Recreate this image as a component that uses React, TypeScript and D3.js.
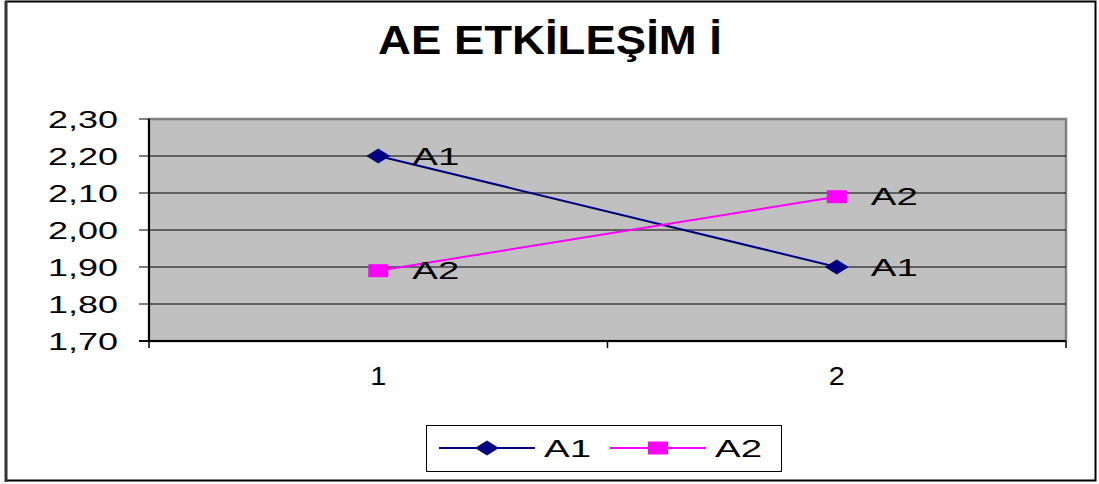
import React from "react";
import * as d3 from "d3";

const categories = ["1", "2"];
const seriesNames = ["A1", "A2"];
const a1Values = [2.2, 1.9];
const a2Values = [1.89, 2.09];
const yTicks = [1.7, 1.8, 1.9, 2.0, 2.1, 2.2, 2.3];
const title = "AE ETKİLEŞİM İ";

const W = 1099;
const H = 484;
const plot = { left: 149, top: 119, right: 1066, bottom: 341 };
const colors = ["#000080", "#FF00FF"];
const FONT = "Liberation Sans, Arial, sans-serif";

const trLocale = d3.formatLocale({ decimal: ",", thousands: ".", grouping: [3], currency: ["", " TL"] });
const fmt = trLocale.format(".2f");

export default function App() {
  const x = d3.scaleBand<string>().domain(categories).range([plot.left, plot.right]);
  const y = d3.scaleLinear().domain([1.7, 2.3]).range([plot.bottom, plot.top]);
  const cx = (c: string) => (x(c) as number) + x.bandwidth() / 2;
  const series = [a1Values, a2Values];
  const line = d3
    .line<number>()
    .x((_, i) => cx(categories[i]))
    .y((d) => y(d));

  const marker = (k: number, px: number, py: number) =>
    k === 0 ? (
      <path d={`M${px - 12},${py} L${px},${py - 7.5} L${px + 12},${py} L${px},${py + 7.5} Z`} fill={colors[0]} />
    ) : (
      <rect x={px - 10} y={py - 6.5} width={20} height={13} fill={colors[1]} />
    );

  const xTickPositions = [plot.left, ...categories.slice(1).map((c) => x(c) as number), plot.right];

  return (
    <svg width={W} height={H} style={{ position: "absolute", left: 0, top: 0 }} fontFamily={FONT}>
      <rect x={0} y={0} width={W} height={H} fill="#fff" />
      <rect x={6} y={1.5} width={1089.5} height={479} fill="#fff" stroke="#000" strokeWidth={2} />
      <line x1={6} x2={6} y1={1} y2={482} stroke="#333" strokeWidth={3} />

      <text
        x={550}
        y={54}
        textAnchor="middle"
        fontSize={40}
        fontWeight="bold"
        textLength={344}
        lengthAdjust="spacingAndGlyphs"
      >
        {title}
      </text>

      {/* plot area */}
      <rect
        x={plot.left}
        y={plot.top}
        width={plot.right - plot.left}
        height={plot.bottom - plot.top}
        fill="#C0C0C0"
        stroke="#808080"
        strokeWidth={2.5}
      />
      {yTicks.map((t) => (
        <g key={t}>
          {t > 1.7 && t < 2.3 && (
            <line x1={plot.left} x2={plot.right} y1={y(t)} y2={y(t)} stroke="#000" strokeWidth={1} />
          )}
          <line x1={plot.left - 10} x2={plot.left} y1={y(t)} y2={y(t)} stroke="#000" strokeWidth={1} />
          <text
            x={118}
            y={y(t) + 8.5}
            textAnchor="end"
            fontSize={24}
            textLength={70}
            lengthAdjust="spacingAndGlyphs"
          >
            {fmt(t)}
          </text>
        </g>
      ))}
      <line x1={plot.left} x2={plot.left} y1={plot.top} y2={plot.bottom} stroke="#000" strokeWidth={2} />
      <line x1={plot.left - 10} x2={plot.right} y1={plot.bottom} y2={plot.bottom} stroke="#000" strokeWidth={2} />
      {xTickPositions.map((p, i) => (
        <line key={i} x1={p} x2={p} y1={plot.bottom} y2={plot.bottom + 7} stroke="#000" strokeWidth={1.5} />
      ))}
      {categories.map((c) => (
        <text key={c} x={cx(c)} y={385} textAnchor="middle" fontSize={26} textLength={16} lengthAdjust="spacingAndGlyphs">
          {c}
        </text>
      ))}

      {series.map((vals, k) => (
        <g key={k}>
          <path d={line(vals) as string} fill="none" stroke={colors[k]} strokeWidth={2} />
          {vals.map((v, i) => (
            <g key={i}>
              {marker(k, cx(categories[i]), y(v))}
              <text
                x={cx(categories[i]) + 34}
                y={y(v) + 8.5}
                fontSize={24}
                textLength={47}
                lengthAdjust="spacingAndGlyphs"
              >
                {seriesNames[k]}
              </text>
            </g>
          ))}
        </g>
      ))}

      {/* legend */}
      <rect x={426.5} y={425.5} width={355} height={46} fill="#fff" stroke="#000" strokeWidth={1} />
      {seriesNames.map((name, k) => {
        const lx = 439 + k * 171;
        return (
          <g key={name}>
            <line x1={lx} x2={lx + 96} y1={448} y2={448} stroke={colors[k]} strokeWidth={2} />
            {marker(k, lx + 48, 448)}
            <text x={lx + 105} y={456.5} fontSize={24} textLength={47} lengthAdjust="spacingAndGlyphs">
              {name}
            </text>
          </g>
        );
      })}
    </svg>
  );
}
